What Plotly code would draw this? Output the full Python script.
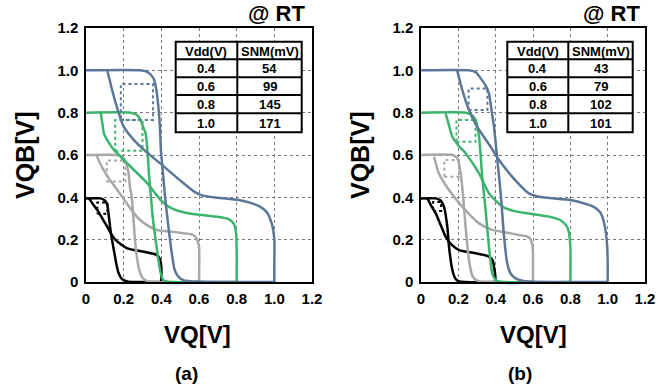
import plotly.graph_objects as go

# ---------------- data ----------------
vdd_labels = ["0.4", "0.6", "0.8", "1.0"]
snm_a = [54, 99, 145, 171]
snm_b = [43, 79, 102, 101]
x_ticks = [0, 0.2, 0.4, 0.6, 0.8, 1.0, 1.2]
x_ticktext = ["0", "0.2", "0.4", "0.6", "0.8", "1.0", "1.2"]
y_ticktext = ["0", "0.2", "0.4", "0.6", "0.8", "1.0", "1.2"]

# (a) curves: steep VTC (A) and mirrored VTC (B) per Vdd
a_10_Ax = [0, 0.29, 0.33, 0.36, 0.375, 0.385, 0.392, 0.398, 0.41, 0.42, 0.435, 0.446, 0.458, 0.47, 0.49, 0.52, 0.6, 1.0]
a_10_Ay = [1.0, 1.0, 0.99, 0.96, 0.9, 0.82, 0.74, 0.62, 0.5, 0.4, 0.28, 0.2, 0.12, 0.06, 0.025, 0.008, 0.002, 0.0]
a_10_Bx = [0.113, 0.135, 0.158, 0.2, 0.255, 0.308, 0.414, 0.5, 0.574, 0.62, 0.7, 0.81, 0.87, 0.924, 0.96, 0.986, 1.0, 1.0, 1.0]
a_10_By = [1.0, 0.92, 0.844, 0.734, 0.67, 0.624, 0.545, 0.48, 0.427, 0.408, 0.398, 0.387, 0.375, 0.356, 0.33, 0.277, 0.2, 0.1, 0.0]

a_08_Ax = [0, 0.237, 0.27, 0.29, 0.305, 0.317, 0.328, 0.335, 0.343, 0.355, 0.37, 0.385, 0.397, 0.41, 0.43, 0.8]
a_08_Ay = [0.8, 0.8, 0.79, 0.765, 0.73, 0.7, 0.6, 0.5, 0.42, 0.3, 0.198, 0.1, 0.04, 0.01, 0.002, 0.0]
a_08_Bx = [0.078, 0.085, 0.096, 0.12, 0.149, 0.219, 0.326, 0.397, 0.45, 0.535, 0.62, 0.7, 0.755, 0.785, 0.797, 0.8, 0.8]
a_08_By = [0.8, 0.76, 0.7, 0.66, 0.624, 0.56, 0.466, 0.387, 0.35, 0.326, 0.316, 0.308, 0.298, 0.275, 0.23, 0.15, 0.0]

a_06_Ax = [0, 0.166, 0.195, 0.21, 0.225, 0.233, 0.243, 0.252, 0.26, 0.27, 0.282, 0.3, 0.33, 0.6]
a_06_Ay = [0.6, 0.6, 0.59, 0.568, 0.52, 0.45, 0.4, 0.3, 0.2, 0.12, 0.06, 0.02, 0.003, 0.0]
a_06_Bx = [0.057, 0.075, 0.1, 0.127, 0.17, 0.216, 0.25, 0.287, 0.33, 0.375, 0.45, 0.52, 0.57, 0.59, 0.6, 0.6]
a_06_By = [0.597, 0.56, 0.52, 0.482, 0.43, 0.372, 0.33, 0.293, 0.265, 0.246, 0.238, 0.23, 0.222, 0.2, 0.167, 0.0]

a_04_Ax = [0, 0.078, 0.1, 0.113, 0.12, 0.128, 0.138, 0.15, 0.16, 0.172, 0.19, 0.22, 0.4]
a_04_Ay = [0.395, 0.395, 0.385, 0.364, 0.32, 0.26, 0.2, 0.14, 0.09, 0.045, 0.015, 0.003, 0.0]
a_04_Bx = [0.016, 0.035, 0.06, 0.09, 0.113, 0.135, 0.158, 0.19, 0.219, 0.26, 0.308, 0.35, 0.375, 0.392, 0.4, 0.4]
a_04_By = [0.395, 0.37, 0.34, 0.295, 0.26, 0.225, 0.198, 0.175, 0.159, 0.15, 0.143, 0.135, 0.128, 0.11, 0.072, 0.0]

# (b) curves
b_10_Ax = [0, 0.257, 0.295, 0.32, 0.345, 0.364, 0.38, 0.391, 0.409, 0.427, 0.445, 0.462, 0.48, 0.507, 0.55, 1.0]
b_10_Ay = [1.0, 1.0, 0.99, 0.962, 0.93, 0.89, 0.8, 0.734, 0.576, 0.419, 0.214, 0.088, 0.04, 0.017, 0.005, 0.0]
b_10_Bx = [0.194, 0.221, 0.257, 0.3, 0.373, 0.418, 0.489, 0.578, 0.65, 0.8, 0.88, 0.923, 0.96, 0.977, 0.995, 1.0, 1.0]
b_10_By = [1.0, 0.907, 0.812, 0.734, 0.639, 0.576, 0.497, 0.419, 0.4, 0.387, 0.37, 0.356, 0.33, 0.293, 0.198, 0.1, 0.0]

b_08_Ax = [0, 0.239, 0.27, 0.293, 0.311, 0.328, 0.346, 0.364, 0.382, 0.4, 0.418, 0.8]
b_08_Ay = [0.8, 0.8, 0.79, 0.765, 0.686, 0.497, 0.34, 0.167, 0.04, 0.01, 0.002, 0.0]
b_08_Bx = [0.132, 0.15, 0.168, 0.2, 0.239, 0.311, 0.364, 0.436, 0.5, 0.578, 0.68, 0.745, 0.775, 0.789, 0.8, 0.8]
b_08_By = [0.797, 0.74, 0.686, 0.645, 0.608, 0.513, 0.419, 0.356, 0.335, 0.324, 0.31, 0.293, 0.27, 0.246, 0.17, 0.0]

b_06_Ax = [0, 0.168, 0.19, 0.204, 0.221, 0.239, 0.257, 0.275, 0.293, 0.32, 0.6]
b_06_Ay = [0.6, 0.6, 0.59, 0.56, 0.45, 0.261, 0.104, 0.03, 0.01, 0.002, 0.0]
b_06_Bx = [0.07, 0.096, 0.15, 0.221, 0.311, 0.382, 0.45, 0.525, 0.565, 0.584, 0.598, 0.6, 0.6]
b_06_By = [0.592, 0.513, 0.435, 0.356, 0.277, 0.246, 0.235, 0.222, 0.216, 0.205, 0.167, 0.1, 0.0]

b_04_Ax = [0, 0.079, 0.105, 0.123, 0.141, 0.15, 0.168, 0.185, 0.204, 0.4]
b_04_Ay = [0.395, 0.395, 0.385, 0.356, 0.261, 0.167, 0.057, 0.015, 0.003, 0.0]
b_04_Bx = [0.034, 0.055, 0.079, 0.105, 0.132, 0.165, 0.204, 0.25, 0.293, 0.335, 0.364, 0.385, 0.391, 0.398, 0.4]
b_04_By = [0.395, 0.36, 0.324, 0.27, 0.214, 0.175, 0.151, 0.142, 0.136, 0.128, 0.12, 0.1, 0.072, 0.03, 0.0]

# SNM squares: lower-left corners (x, y) for Vdd 0.4, 0.6, 0.8, 1.0
sq_a_x = [0.06, 0.11, 0.155, 0.185]
sq_a_y = [0.322, 0.475, 0.62, 0.765]
sq_b_x = [0.065, 0.125, 0.19, 0.255]
sq_b_y = [0.335, 0.497, 0.663, 0.813]

colors = ["#000000", "#A8A8A8", "#3DB46E", "#5B7797"]

# ---------------- figure ----------------
W, H = 671, 391
FONT = "Liberation Sans, Arial, sans-serif"


def px(x):
    return x / W


def py(y):
    return 1 - y / H


fig = go.Figure()

curves_a = [
    (a_04_Ax, a_04_Ay, a_04_Bx, a_04_By),
    (a_06_Ax, a_06_Ay, a_06_Bx, a_06_By),
    (a_08_Ax, a_08_Ay, a_08_Bx, a_08_By),
    (a_10_Ax, a_10_Ay, a_10_Bx, a_10_By),
]
curves_b = [
    (b_04_Ax, b_04_Ay, b_04_Bx, b_04_By),
    (b_06_Ax, b_06_Ay, b_06_Bx, b_06_By),
    (b_08_Ax, b_08_Ay, b_08_Bx, b_08_By),
    (b_10_Ax, b_10_Ay, b_10_Bx, b_10_By),
]

for (xa, ya), curves, sqx, sqy, snm in [
    (("x", "y"), curves_a, sq_a_x, sq_a_y, snm_a),
    (("x2", "y2"), curves_b, sq_b_x, sq_b_y, snm_b),
]:
    for i, (ax_, ay_, bx_, by_) in enumerate(curves):
        c = colors[i]
        s = snm[i] / 1000.0
        x0, y0 = sqx[i], sqy[i]
        fig.add_trace(go.Scatter(x=[x0, x0 + s, x0 + s, x0, x0], y=[y0, y0, y0 + s, y0 + s, y0],
                                 mode="lines", line=dict(color=c, width=2, dash="dot"),
                                 xaxis=xa, yaxis=ya, showlegend=False, hoverinfo="skip"))
        for cx, cy in [(ax_, ay_), (bx_, by_)]:
            fig.add_trace(go.Scatter(x=cx, y=cy, mode="lines",
                                     line=dict(color=c, width=2.5, shape="spline", smoothing=0.6),
                                     xaxis=xa, yaxis=ya, showlegend=False, hoverinfo="skip"))

axis_common = dict(range=[0, 1.2], tickvals=x_ticks, showgrid=True, gridcolor="#7a7a7a",
                   griddash="dot", gridwidth=1, showline=True, linecolor="black", linewidth=1.5,
                   mirror=True, zeroline=False, ticks="", fixedrange=True, automargin=False,
                   tickfont=dict(family=FONT, size=15, color="black"))

dom_a = [px(86), px(312)]
dom_b = [px(421), px(645)]
dom_y = [py(282), py(28)]

fig.update_layout(
    template="none",
    width=W, height=H, margin=dict(l=0, r=0, t=0, b=0, pad=0, autoexpand=False),
    plot_bgcolor="white", paper_bgcolor="white",
    xaxis=dict(domain=dom_a, anchor="y", ticktext=["<b>%s</b>" % t for t in x_ticktext],
               ticklabelstandoff=2, **axis_common),
    yaxis=dict(domain=dom_y, anchor="x", ticktext=["<b>%s</b>" % t for t in y_ticktext],
               ticklabelstandoff=3, **axis_common),
    xaxis2=dict(domain=dom_b, anchor="y2", ticktext=["<b>%s</b>" % t for t in x_ticktext],
                ticklabelstandoff=2, **axis_common),
    yaxis2=dict(domain=dom_y, anchor="x2", ticktext=["<b>%s</b>" % t for t in y_ticktext],
                ticklabelstandoff=3, **axis_common),
)

annotations = []
shapes = []


def text(x, y, t, size, angle=0):
    annotations.append(dict(x=px(x), y=py(y), xref="paper", yref="paper", text="<b>%s</b>" % t,
                            showarrow=False, xanchor="center", yanchor="middle", textangle=angle,
                            font=dict(family=FONT, size=size, color="black")))


for (ycx, xcx, labx, rtx, panel) in [(25, 197, 186, 276, "(a)"), (360, 533, 520, 611, "(b)")]:
    text(ycx, 155, "VQB[V]", 25, angle=-90)
    text(xcx, 334, "VQ[V]", 24)
    text(labx, 373, panel, 19)
    text(rtx, 13, "@ RT", 22)

# tables
row_lines = [41.7, 59.3, 77.3, 95.0, 113.3, 132.3]
for (tx0, tdiv, tx1, snm) in [(175.7, 237.3, 301.7, snm_a), (507.3, 568.3, 632.7, snm_b)]:
    shapes.append(dict(type="rect", xref="paper", yref="paper", x0=px(tx0), x1=px(tx1),
                       y0=py(row_lines[-1]), y1=py(row_lines[0]), line=dict(color="black", width=2),
                       fillcolor="white", layer="above"))
    shapes.append(dict(type="line", xref="paper", yref="paper", x0=px(tdiv), x1=px(tdiv),
                       y0=py(row_lines[-1]), y1=py(row_lines[0]), line=dict(color="black", width=2), layer="above"))
    for r in row_lines[1:-1]:
        shapes.append(dict(type="line", xref="paper", yref="paper", x0=px(tx0), x1=px(tx1),
                           y0=py(r), y1=py(r), line=dict(color="black", width=2), layer="above"))
    cx1 = (tx0 + tdiv) / 2
    cx2 = (tdiv + tx1) / 2
    rows = [("Vdd(V)", "SNM(mV)")] + [(v, str(s)) for v, s in zip(vdd_labels, snm)]
    for k, (c1, c2) in enumerate(rows):
        cy = (row_lines[k] + row_lines[k + 1]) / 2 + 0.5
        text(cx1, cy, c1, 13)
        text(cx2, cy, c2, 13)

fig.update_layout(annotations=annotations, shapes=shapes)
fig.write_html("out.html", config={"displayModeBar": False},
               post_script="document.body.style.margin='0';document.body.style.overflow='hidden';")
